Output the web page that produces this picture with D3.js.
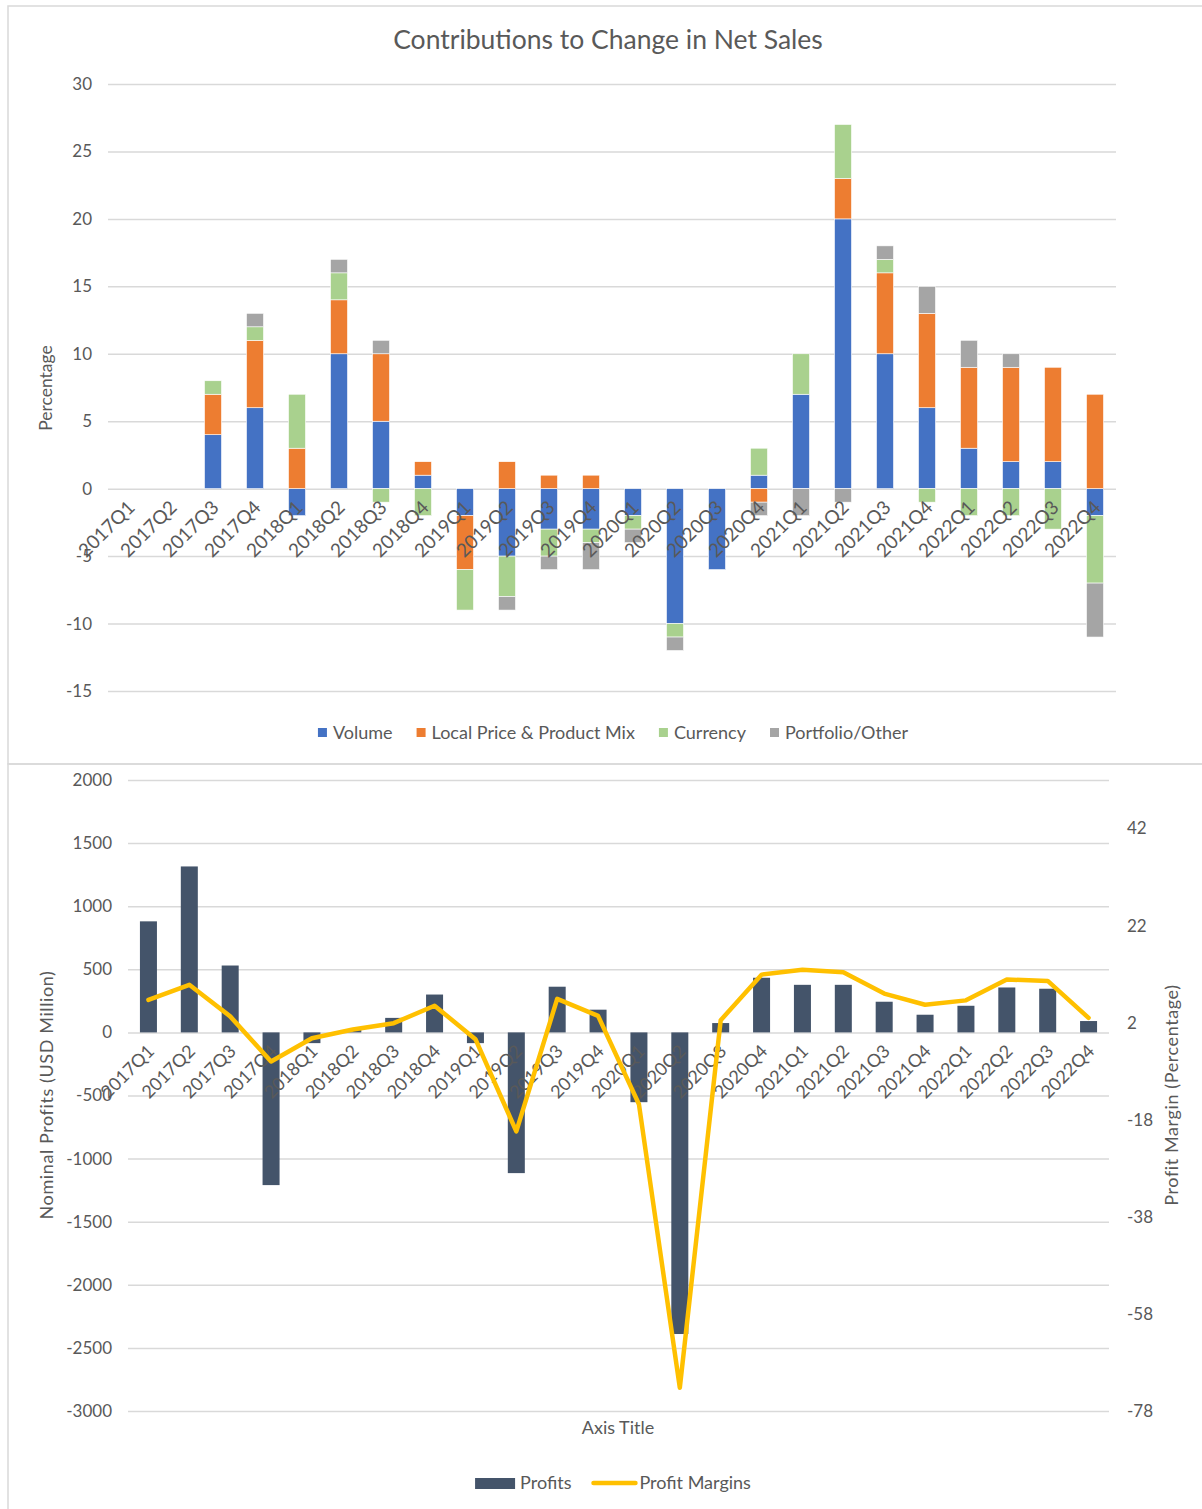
<!DOCTYPE html>
<html>
<head>
<meta charset="utf-8">
<script src="https://cdn.jsdelivr.net/npm/d3@7"></script>
<style>
  html, body { margin: 0; padding: 0; background: #fff; }
  svg text { font-family: Lato, "Open Sans", sans-serif; fill: #595959; }
</style>
</head>
<body>
<svg id="chart"></svg>
<script>
const W = 1202
const H = 1509

const quarters = [
  '2017Q1', '2017Q2', '2017Q3', '2017Q4', '2018Q1', '2018Q2', '2018Q3', '2018Q4',
  '2019Q1', '2019Q2', '2019Q3', '2019Q4', '2020Q1', '2020Q2', '2020Q3', '2020Q4',
  '2021Q1', '2021Q2', '2021Q3', '2021Q4', '2022Q1', '2022Q2', '2022Q3', '2022Q4'
]

// contributions to change in net sales (%)
const volume = [0, 0, 4, 6, -2, 10, 5, 1, -2, -5, -3, -3, -2, -10, -6, 1, 7, 20, 10, 6, 3, 2, 2, -2]
const priceMix = [0, 0, 3, 5, 3, 4, 5, 1, -4, 2, 1, 1, 0, 0, 0, -1, 0, 3, 6, 7, 6, 7, 7, 7]
const currency = [0, 0, 1, 1, 4, 2, -1, -2, -3, -3, -2, -1, -1, -1, 0, 2, 3, 4, 1, -1, -2, -2, -3, -5]
const portfolio = [0, 0, 0, 1, 0, 1, 1, 0, 0, -1, -1, -2, -1, -1, 0, -1, -2, -1, 1, 2, 2, 1, 0, -4]

const seriesNames = ['Volume', 'Local Price & Product Mix', 'Currency', 'Portfolio/Other']
const seriesColors = ['#4472C4', '#ED7D31', '#A9D18E', '#A5A5A5']
const pctTicks = [-15, -10, -5, 0, 5, 10, 15, 20, 25, 30]

// profits (USD million) and profit margins (%)
const profits = [880, 1315, 530, -1210, -85, 25, 115, 300, -85, -1115, 362, 180, -553, -2390, 74, 433, 377, 377, 243, 140, 211, 356, 346, 90]
const margins = [6.7, 9.8, 3.3, -6.0, -1.2, 0.6, 1.9, 5.5, -1.4, -20.4, 6.9, 3.4, -14.8, -73.2, 2.5, 11.9, 12.9, 12.4, 8.0, 5.7, 6.6, 10.9, 10.6, 3.0]
const profitTicks = [-3000, -2500, -2000, -1500, -1000, -500, 0, 500, 1000, 1500, 2000]
const marginTicks = [-78, -58, -38, -18, 2, 22, 42]

const GRID = '#D9D9D9'
const plain = d => String(d)

const svg = d3.select('#chart')
  .attr('width', W)
  .attr('height', H)

// frames
svg.append('rect')
  .attr('x', 8).attr('y', 6).attr('width', W).attr('height', 758)
  .attr('fill', 'none').attr('stroke', GRID).attr('stroke-width', 1.5)
svg.append('rect')
  .attr('x', 8).attr('y', 764).attr('width', W).attr('height', 760)
  .attr('fill', 'none').attr('stroke', GRID).attr('stroke-width', 1.5)

drawContributions()
drawProfits()

function drawContributions() {
  const g = svg.append('g')

  const x = d3.scaleBand()
    .domain(quarters)
    .range([108, 1116])
    .paddingInner(0.595)
    .paddingOuter(0.2975)

  const y = d3.scaleLinear()
    .domain([-15, 30])
    .range([691, 84])

  g.append('text')
    .attr('x', 608).attr('y', 49)
    .attr('text-anchor', 'middle')
    .attr('font-size', 26.5)
    .text('Contributions to Change in Net Sales')

  const yAxis = d3.axisLeft(y)
    .tickValues(pctTicks)
    .tickFormat(plain)
    .tickSize(-(1116 - 108))
    .tickPadding(16)
  g.append('g')
    .attr('transform', 'translate(108,0)')
    .call(yAxis)
    .call(a => a.select('.domain').remove())
    .call(a => a.selectAll('line').attr('stroke', GRID).attr('stroke-width', 1.5))
    .call(a => a.selectAll('text').attr('font-size', 17).attr('fill', '#595959').style('font-family', 'Lato'))

  g.append('text')
    .attr('transform', 'translate(52,388) rotate(-90)')
    .attr('text-anchor', 'middle')
    .attr('font-size', 17.5)
    .text('Percentage')

  const rows = quarters.map((q, i) => ({
    q, v0: volume[i], v1: priceMix[i], v2: currency[i], v3: portfolio[i]
  }))
  const stacked = d3.stack()
    .keys(['v0', 'v1', 'v2', 'v3'])
    .offset(d3.stackOffsetDiverging)(rows)

  g.selectAll('g.series')
    .data(stacked)
    .join('g')
      .attr('class', 'series')
      .attr('fill', (d, i) => seriesColors[i])
    .selectAll('rect')
    .data(d => d.filter(s => s[1] !== s[0]))
    .join('rect')
      .attr('x', d => x(d.data.q))
      .attr('width', x.bandwidth())
      .attr('y', d => y(Math.max(d[0], d[1])))
      .attr('height', d => Math.abs(y(d[0]) - y(d[1])))
      .attr('stroke', '#fff')
      .attr('stroke-width', 0.6)

  // category labels next to the zero line
  g.selectAll('text.cat')
    .data(quarters)
    .join('text')
      .attr('class', 'cat')
      .attr('text-anchor', 'end')
      .attr('font-size', 19)
      .attr('transform', d => `translate(${x(d) + x.bandwidth() / 2 + 7},${y(0) + 20}) rotate(-45)`)
      .text(d => d)

  // legend
  const legend = g.append('g').attr('transform', 'translate(0,733)')
  const items = legend.selectAll('g')
    .data(seriesNames)
    .join('g')
  items.append('rect')
    .attr('width', 9).attr('height', 9).attr('y', -5)
    .attr('fill', (d, i) => seriesColors[i])
  items.append('text')
    .attr('x', 15).attr('y', 6)
    .attr('font-size', 18)
    .text(d => d)
  const widths = items.nodes().map(n => 15 + n.querySelector('text').getComputedTextLength())
  const gap = 24
  const total = d3.sum(widths) + gap * (widths.length - 1)
  let cx = 613 - total / 2
  items.attr('transform', (d, i) => {
    const t = `translate(${cx},0)`
    cx += widths[i] + gap
    return t
  })
}

function drawProfits() {
  const g = svg.append('g')

  const x = d3.scaleBand()
    .domain(quarters)
    .range([128, 1109])
    .paddingInner(0.584)
    .paddingOuter(0.292)

  const yL = d3.scaleLinear()
    .domain([-3000, 2000])
    .range([1411, 780])

  const yR = d3.scaleLinear()
    .domain([-78, 52])
    .range([1411, 780])

  const yAxis = d3.axisLeft(yL)
    .tickValues(profitTicks)
    .tickFormat(plain)
    .tickSize(-(1109 - 128))
    .tickPadding(16)
  g.append('g')
    .attr('transform', 'translate(128,0)')
    .call(yAxis)
    .call(a => a.select('.domain').remove())
    .call(a => a.selectAll('line').attr('stroke', GRID).attr('stroke-width', 1.5))
    .call(a => a.selectAll('text').attr('font-size', 17).attr('fill', '#595959').style('font-family', 'Lato'))

  const rAxis = d3.axisRight(yR)
    .tickValues(marginTicks)
    .tickFormat(plain)
    .tickSize(0)
    .tickPadding(18)
  g.append('g')
    .attr('transform', 'translate(1109,0)')
    .call(rAxis)
    .call(a => a.select('.domain').remove())
    .call(a => a.selectAll('text').attr('font-size', 17).attr('fill', '#595959').style('font-family', 'Lato'))

  g.append('text')
    .attr('transform', 'translate(53,1095) rotate(-90)')
    .attr('text-anchor', 'middle')
    .attr('font-size', 18)
    .attr('letter-spacing', 0.6)
    .text('Nominal Profits (USD Million)')

  g.append('text')
    .attr('transform', 'translate(1178,1095) rotate(-90)')
    .attr('text-anchor', 'middle')
    .attr('font-size', 18)
    .attr('letter-spacing', 0.6)
    .text('Profit Margin (Percentage)')

  g.append('text')
    .attr('x', 618).attr('y', 1434)
    .attr('text-anchor', 'middle')
    .attr('font-size', 18)
    .text('Axis Title')

  g.selectAll('rect.bar')
    .data(profits)
    .join('rect')
      .attr('class', 'bar')
      .attr('x', (d, i) => x(quarters[i]))
      .attr('width', x.bandwidth())
      .attr('y', d => yL(Math.max(0, d)))
      .attr('height', d => Math.abs(yL(d) - yL(0)))
      .attr('fill', '#44546A')

  g.selectAll('text.cat')
    .data(quarters)
    .join('text')
      .attr('class', 'cat')
      .attr('text-anchor', 'end')
      .attr('font-size', 18)
      .attr('transform', d => `translate(${x(d) + x.bandwidth() / 2 + 7},${yL(0) + 20}) rotate(-45)`)
      .text(d => d)

  const line = d3.line()
    .x((d, i) => x(quarters[i]) + x.bandwidth() / 2)
    .y(d => yR(d))

  g.append('path')
    .datum(margins)
    .attr('d', line)
    .attr('fill', 'none')
    .attr('stroke', '#FFC000')
    .attr('stroke-width', 4.5)
    .attr('stroke-linejoin', 'round')
    .attr('stroke-linecap', 'round')

  // legend
  const legend = g.append('g').attr('transform', 'translate(0,1483)')
  const barItem = legend.append('g')
  barItem.append('rect')
    .attr('width', 40).attr('height', 11).attr('y', -5)
    .attr('fill', '#44546A')
  barItem.append('text')
    .attr('x', 45).attr('y', 6).attr('font-size', 18)
    .text('Profits')
  const lineItem = legend.append('g')
  lineItem.append('line')
    .attr('x1', 0).attr('x2', 42).attr('y1', 0).attr('y2', 0)
    .attr('stroke', '#FFC000').attr('stroke-width', 4.5).attr('stroke-linecap', 'round')
  lineItem.append('text')
    .attr('x', 46).attr('y', 6).attr('font-size', 18)
    .text('Profit Margins')

  const w1 = 45 + barItem.select('text').node().getComputedTextLength()
  const w2 = 46 + lineItem.select('text').node().getComputedTextLength()
  const gap = 22
  const start = 613 - (w1 + w2 + gap) / 2
  barItem.attr('transform', `translate(${start},0)`)
  lineItem.attr('transform', `translate(${start + w1 + gap},0)`)
}
</script>
</body>
</html>
